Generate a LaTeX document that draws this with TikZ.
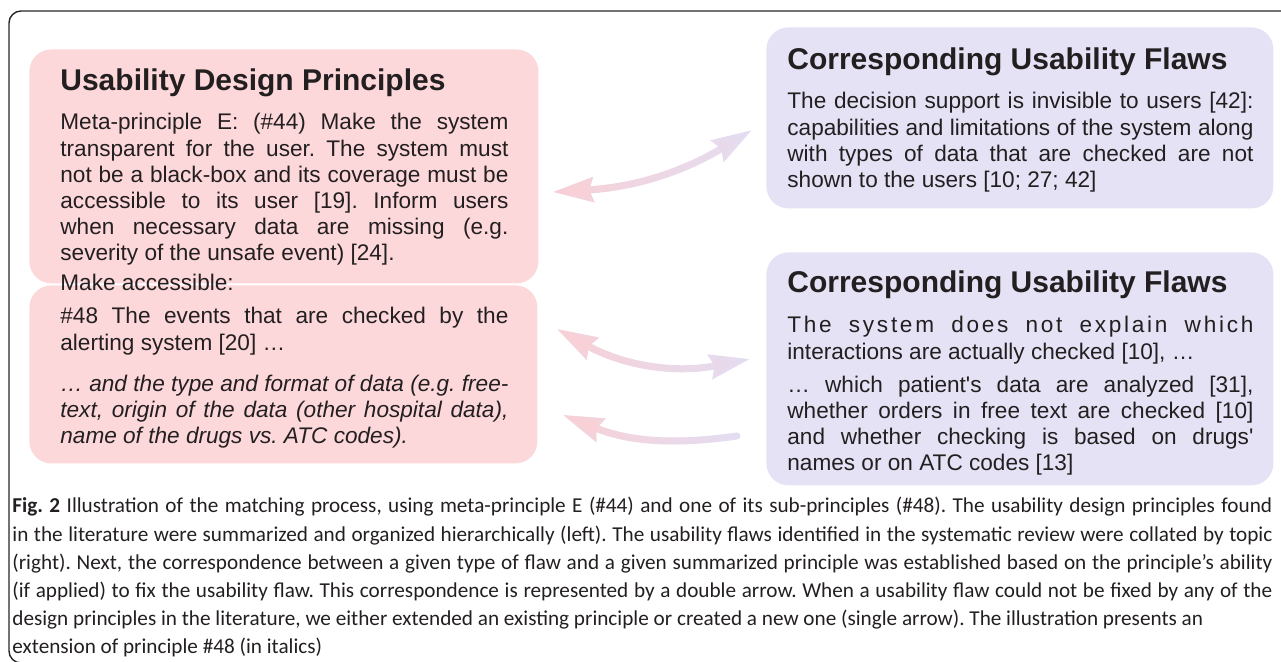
\documentclass[tikz,border=0pt]{standalone}
\usepackage{fontspec}
\setmainfont{Liberation Sans}
\newfontfamily\capfont{Carlito}
\usetikzlibrary{arrows.meta,fadings}
\definecolor{box_pink}{RGB}{253,216,219}
\definecolor{box_lilac}{RGB}{229,226,245}
\definecolor{arrow_pink}{RGB}{249,208,213}
\definecolor{arrow_lilac}{RGB}{227,222,243}
\definecolor{text_dark}{RGB}{35,31,32}
\newcommand{\bodysize}{\fontsize{11.3}{13.1}\selectfont}
\newcommand{\headsize}{\fontsize{15}{18}\selectfont\bfseries}
\newcommand{\capsize}{\capfont\fontsize{10.6}{14.1}\selectfont}
\frenchspacing
\tikzset{
    pinkbox/.style={fill=box_pink,rounded corners=11pt,anchor=north west,inner sep=0pt},
    lilacbox/.style={fill=box_lilac,rounded corners=11pt,anchor=north west,inner sep=0pt},
    heading/.style={anchor=base west,inner sep=0pt,text=text_dark,font=\headsize},
    bodytext/.style={anchor=base west,inner sep=0pt,text=text_dark,font=\bodysize,align=justify},
    match/.style={line width=3.5pt,{Stealth[length=20pt,width=12pt,inset=2pt]}-{Stealth[length=20pt,width=12pt,inset=2pt]}},
    extend/.style={line width=3.5pt,line cap=round,-{Stealth[length=20pt,width=12pt,inset=2pt]}},
}

\begin{document}
\begin{tikzpicture}[x=0.5pt,y=-0.5pt]
  \useasboundingbox (0,0) rectangle (1281,662);
  % frame
  \draw[line width=0.7pt,black!85,rounded corners=6pt] (1300,11) -- (9,11) -- (9,663) -- (1300,663);
  % boxes
  \node[pinkbox,minimum width=254.5pt,minimum height=117pt] (meta) at (29,49) {};
  \node[pinkbox,minimum width=254pt,minimum height=89pt] (sub) at (29,285) {};
  \node[lilacbox,minimum width=253.5pt,minimum height=90.5pt] (flaws_a) at (766,27) {};
  \node[lilacbox,minimum width=253.5pt,minimum height=116.5pt] (flaws_b) at (766,252) {};
  % left texts
  \node[heading] (meta_head) at (60,91) {Usability Design Principles};
  \node[bodytext,text width=224pt] (meta_text) at (60,130) {Meta-principle E: (\#44) Make the system\linebreak
    transparent for the user. The system must\linebreak
    not be a black-box and its coverage must be\linebreak
    accessible to its user [19]. Inform users\linebreak
    when necessary data are missing (e.g.\linebreak
    severity of the unsafe event) [24].};
  \node[bodytext] (access) at (60,291) {Make accessible:};
  \node[bodytext,text width=224pt] (sub_text) at (60,324) {\#48 The events that are checked by the\linebreak
    alerting system [20] …\par\vspace{7.5pt}
    \itshape … and the type and format of data (e.g. free-\linebreak
    text, origin of the data (other hospital data),\linebreak
    name of the drugs vs. ATC codes).};
  % right texts
  \node[heading] (flaws_a_head) at (787,70) {Corresponding Usability Flaws};
  \node[bodytext,text width=233pt] (flaws_a_text) at (787,109) {The decision support is invisible to users [42]:\linebreak
    capabilities and limitations of the system along\linebreak
    with types of data that are checked are not\linebreak
    shown to the users [10; 27; 42]};
  \node[heading] (flaws_b_head) at (787,293) {Corresponding Usability Flaws};
  \node[bodytext,text width=233pt] (flaws_b_text) at (787,333) {{\addfontfeature{LetterSpace=12}The system does not explain which}\linebreak
    interactions are actually checked [10], …\par\vspace{3.5pt}
    … which patient\textquotesingle s data are analyzed [31],\linebreak
    whether orders in free text are checked [10]\linebreak
    and whether checking is based on drugs\textquotesingle\linebreak
    names or on ATC codes [13]};
  % arrows
  \coordinate (m1_l) at (553,192);
  \coordinate (m1_r) at (752,130);
  \coordinate (m2_l) at (557,329);
  \coordinate (m2_r) at (750,359);
  \coordinate (e1_tail) at (737,436);
  \coordinate (e1_tip) at (563,415);
  \draw[match,arrow_lilac] (m1_l) to[bend right=14] (m1_r);
  \draw[match,arrow_pink,path fading=east] (m1_l) to[bend right=14] (m1_r);
  \draw[match,arrow_lilac] (m2_l) to[bend right=20] (m2_r);
  \draw[match,arrow_pink,path fading=east] (m2_l) to[bend right=20] (m2_r);
  \draw[extend,arrow_lilac] (e1_tail) to[bend left=15] (e1_tip);
  \draw[extend,arrow_pink,path fading=east] (e1_tail) to[bend left=15] (e1_tip);
  % caption
  \node[anchor=base west,inner sep=0pt,text width=630pt,align=justify,font=\capsize,text=text_dark] (caption) at (12,513)
    {\textbf{Fig. 2} Illustration of the matching process, using meta-principle E (\#44) and one of its sub-principles (\#48). The usability design principles found\linebreak
    in the literature were summarized and organized hierarchically (left). The usability flaws identified in the systematic review were collated by topic\linebreak
    (right). Next, the correspondence between a given type of flaw and a given summarized principle was established based on the principle’s ability\linebreak
    (if applied) to fix the usability flaw. This correspondence is represented by a double arrow. When a usability flaw could not be fixed by any of the\linebreak
    design principles in the literature, we either extended an existing principle or created a new one (single arrow). The illustration presents an\\
    extension of principle \#48 (in italics)};
\end{tikzpicture}
\end{document}
